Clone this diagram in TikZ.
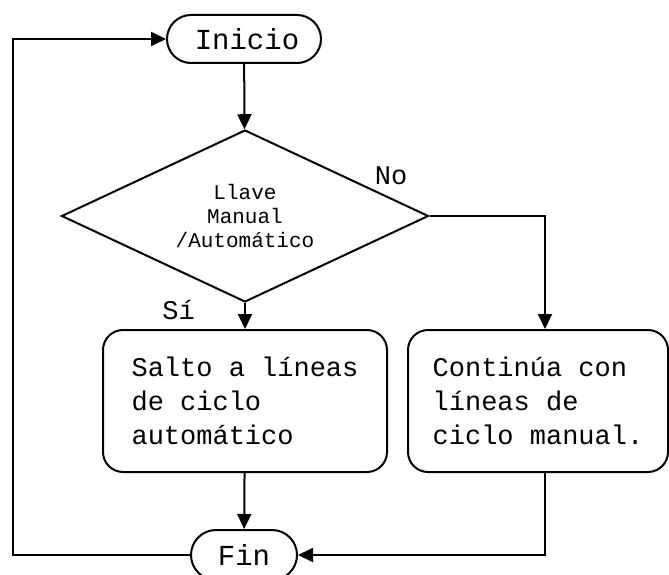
\documentclass[tikz,border=0pt]{standalone}
\usepackage{fontspec}
\newfontfamily\mono{Liberation Mono}
\usetikzlibrary{arrows.meta,positioning,shapes.geometric,shapes.misc}
\tikzset{
  >={Triangle[length=15pt,width=14pt]},
  terminal/.style={rounded rectangle,draw,line width=2pt,minimum height=48pt,inner sep=0pt,
    font=\mono\fontsize{29}{34}\selectfont},
  decision/.style={diamond,aspect=2.2,draw,line width=2pt,inner sep=0pt,minimum width=367pt,minimum height=172pt,
    align=center,font=\mono\fontsize{21}{24}\selectfont},
  process/.style={draw,line width=2pt,rounded corners=20pt,minimum height=142pt,align=left,
    font=\mono\fontsize{27}{34}\selectfont},
  flow/.style={->,line width=2pt},
  lbl/.style={inner sep=0pt,font=\mono\fontsize{27}{34}\selectfont},
}
\begin{document}
\begin{tikzpicture}[x=1pt,y=-1pt]
  \useasboundingbox (0,0) rectangle (669,575);
  \node[terminal,minimum width=154pt] (inicio) at (244,39) {\hspace*{6pt}Inicio};
  \node[decision] (llave) at (245,216) {Llave\\Manual\\/Automático};
  \node[process,minimum width=284pt] (salto) at (245,401) {Salto a líneas\\de ciclo\\automático};
  \node[process,minimum width=260pt] (continua) at (538,401) {Continúa con\\líneas de\\ciclo manual.};
  \node[terminal,minimum width=106pt,minimum height=50pt] (fin) at (244,555) {Fin};
  \coordinate (vuelta) at (13,555);
  % flechas
  \draw[flow] (inicio) -- (llave);
  \draw[flow] (llave.south) -- (salto.north);
  \node[lbl,above left=-17pt and 50pt of llave.south] (si) {Sí};
  \draw[flow] (llave.east) -| ([xshift=7pt]continua.north);
  \node[lbl,above left=31pt and 22pt of llave.east] (no) {No};
  \draw[flow] (salto) -- (fin);
  \draw[flow] ([xshift=7pt]continua.south) |- (fin.east);
  \draw[flow] (fin.west) -- (vuelta) |- (inicio.west);
\end{tikzpicture}
\end{document}
